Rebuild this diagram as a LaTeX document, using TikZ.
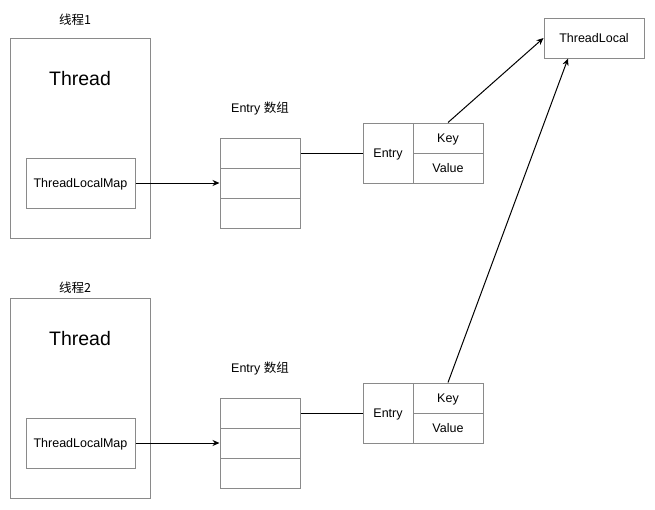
\documentclass[tikz,border=0pt]{standalone}
\usepackage{fontspec}
\setmainfont{Liberation Sans}
\newfontfamily\cjk{Noto Sans CJK SC}
\usetikzlibrary{arrows.meta}
\definecolor{boxgray}{HTML}{8A8A8A}
\begin{document}
\begin{tikzpicture}[x=1pt,y=-1pt,
  box/.style={draw=boxgray, line width=1pt, rectangle, inner sep=0pt, font=\fontsize{12.5}{14}\selectfont, text height=9pt, text depth=0pt},
  lbl/.style={inner sep=0pt, font=\fontsize{12.5}{14}\selectfont},
  big/.style={inner sep=0pt, font=\fontsize{19.5}{22}\selectfont},
  conn/.style={line width=1pt, black},
  arr/.style={conn, -{Stealth[length=7pt,width=6pt]}}]
\useasboundingbox (0,0) rectangle (655,509);

% ---------- Thread 1 ----------
\node[lbl] (l1) at (75,20) {\cjk 线程1};
\node[box, minimum width=140pt, minimum height=200pt] (t1) at (80,138) {};
\node[big] (tt1) at (80,79) {Thread};
\node[box, minimum width=109pt, minimum height=50pt] (m1) at (80.5,183) {ThreadLocalMap};
\node[lbl] (al1) at (260,109) {Entry {\cjk 数组}};
\node[box, minimum width=80pt, minimum height=30pt] (a1a) at (260,153) {};
\node[box, minimum width=80pt, minimum height=30pt] (a1b) at (260,183) {};
\node[box, minimum width=80pt, minimum height=30pt] (a1c) at (260,213) {};
\node[box, minimum width=50pt, minimum height=60pt] (e1) at (388,153) {Entry};
\node[box, minimum width=70pt, minimum height=30pt] (k1) at (448,138) {Key};
\node[box, minimum width=70pt, minimum height=30pt] (v1) at (448,168) {Value};

% ---------- Thread 2 ----------
\node[lbl] (l2) at (75,288) {\cjk 线程2};
\node[box, minimum width=140pt, minimum height=200pt] (t2) at (80,398) {};
\node[big] (tt2) at (80,339) {Thread};
\node[box, minimum width=109pt, minimum height=50pt] (m2) at (80.5,443) {ThreadLocalMap};
\node[lbl] (al2) at (260,369) {Entry {\cjk 数组}};
\node[box, minimum width=80pt, minimum height=30pt] (a2a) at (260,413) {};
\node[box, minimum width=80pt, minimum height=30pt] (a2b) at (260,443) {};
\node[box, minimum width=80pt, minimum height=30pt] (a2c) at (260,473) {};
\node[box, minimum width=50pt, minimum height=60pt] (e2) at (388,413) {Entry};
\node[box, minimum width=70pt, minimum height=30pt] (k2) at (448,398) {Key};
\node[box, minimum width=70pt, minimum height=30pt] (v2) at (448,428) {Value};

% ---------- ThreadLocal ----------
\node[box, minimum width=100pt, minimum height=40pt] (tl) at (594,38) {ThreadLocal};
\coordinate (tlin) at ([xshift=-26pt]tl.south);

% ---------- connectors ----------
\draw[arr] (m1.east) -- (a1b.west);
\draw[conn] (a1a.east) -- (e1.west);
\draw[arr] (k1.north) -- (tl.west);
\draw[arr] (m2.east) -- (a2b.west);
\draw[conn] (a2a.east) -- (e2.west);
\draw[arr] (k2.north) -- (tlin);
\end{tikzpicture}
\end{document}
